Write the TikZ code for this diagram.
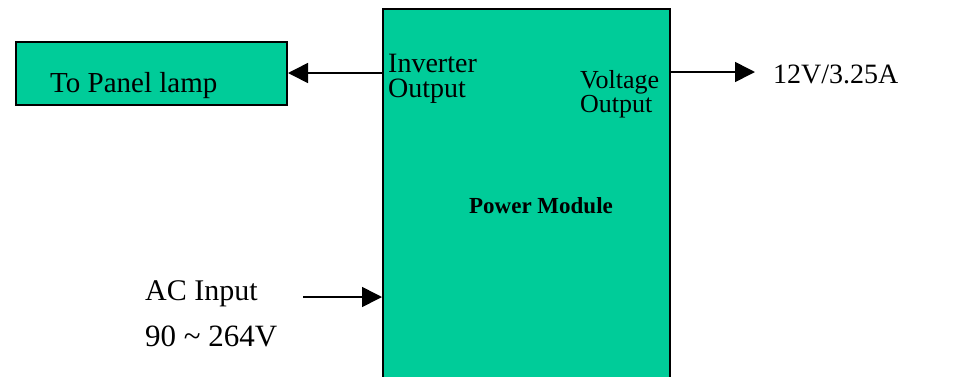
\documentclass[tikz,border=0pt]{standalone}
\usepackage{fontspec}
\setmainfont{Liberation Serif}
\usepackage{tikz}
\usetikzlibrary{arrows.meta, positioning}
\definecolor{modgreen}{RGB}{0, 204, 153}

\begin{document}
\begin{tikzpicture}[x=1pt, y=-1pt,
        blockbox/.style={draw, line width=2pt, fill=modgreen, inner sep=0pt},
        sigarrow/.style={line width=1.6pt, -{Triangle[length=20pt, width=20pt]}},
        lbl/.style={inner sep=0pt, anchor=base west, align=left}]
        \clip (0,0) rectangle (964,376);

        % Power module block
        \node[blockbox, minimum width=287pt, minimum height=392pt] (pm) at (526.5,205) {};
        \node[font=\bfseries\fontsize{23}{26}\selectfont] (pmtext) at (541,206) {Power Module};
        \node[lbl, font=\fontsize{28}{25}\selectfont] (invout) at (388,97) {Inverter\\Output};
        \node[lbl, font=\fontsize{26}{22}\selectfont] (vout) at (580,112) {Voltage\\Output};

        % Panel lamp block
        \node[blockbox, minimum width=271pt, minimum height=63pt] (lamp) at (151.5,73) {};
        \node[lbl, font=\fontsize{29}{32}\selectfont] (lamptext) at (50,92) {To Panel lamp};

        % Outputs and input
        \node[lbl, font=\fontsize{28}{32}\selectfont] (dcout) at (773,83) {12V/3.25A};
        \node[lbl, font=\fontsize{30}{32}\selectfont] (acin) at (145,300) {AC Input};
        \node[lbl, font=\fontsize{31}{32}\selectfont] (acrange) at (145,346) {90 \textasciitilde{} 264V};
        \coordinate (dcend) at (755,72);
        \coordinate (acstart) at (303,297);

        \draw[sigarrow] (pm.west |- lamp.east) -- (lamp.east);
        \draw[sigarrow] (pm.east |- dcend) -- (dcend);
        \draw[sigarrow] (acstart) -- (pm.west |- acstart);
\end{tikzpicture}
\end{document}
